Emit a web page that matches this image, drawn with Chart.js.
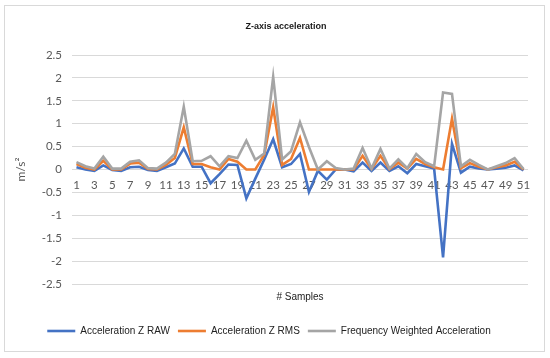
<!DOCTYPE html>
<html lang="en">
<head>
  <meta charset="UTF-8" />
  <title>Z-axis acceleration</title>
  <script src="https://cdn.jsdelivr.net/npm/chart.js"></script>
  <style>
    * { box-sizing: border-box; }
    html, body { margin: 0; padding: 0; background: #fff; }
    .frame {
      position: absolute;
      left: 4px; top: 5px;
      width: 541px; height: 347px;
      border: 1px solid #d9d9d9;
    }
    .wrap {
      position: absolute;
      left: 0; top: 0;
      width: 550px; height: 358px;
    }
  </style>
</head>
<body>
  <div class="frame"></div>
  <div class="wrap"><canvas id="zChart" width="550" height="358"></canvas></div>

  <script>
    const chartTitle = "Z-axis acceleration";
    const samples = [1, 2, 3, 4, 5, 6, 7, 8, 9, 10, 11, 12, 13, 14, 15, 16, 17, 18, 19, 20,
      21, 22, 23, 24, 25, 26, 27, 28, 29, 30, 31, 32, 33, 34, 35, 36, 37, 38, 39, 40,
      41, 42, 43, 44, 45, 46, 47, 48, 49, 50, 51];

    const rawZ = [0.05, 0.0, -0.03, 0.09, -0.01, -0.03, 0.05, 0.06, -0.01, -0.03,
      0.05, 0.13, 0.46, 0.06, 0.06, -0.3, -0.1, 0.11, 0.1, -0.63,
      -0.2, 0.22, 0.66, 0.05, 0.12, 0.34, -0.49, -0.03, -0.22, 0.0,
      0.0, -0.04, 0.15, -0.03, 0.15, -0.03, 0.07, -0.08, 0.12, 0.07,
      0.02, -1.92, 0.56, -0.07, 0.06, 0.02, 0.0, 0.02, 0.04, 0.09, -0.02];

    const rmsZ = [0.12, 0.04, 0.0, 0.19, 0.0, 0.0, 0.13, 0.15, 0.01, 0.0,
      0.1, 0.25, 0.92, 0.12, 0.12, 0.05, 0.0, 0.23, 0.17, 0.0,
      0.0, 0.32, 1.36, 0.1, 0.23, 0.69, 0.0, 0.0, 0.0, 0.0,
      0.0, 0.0, 0.3, 0.01, 0.3, 0.01, 0.15, 0.02, 0.23, 0.12,
      0.05, 0.0, 1.11, 0.03, 0.14, 0.06, 0.0, 0.05, 0.09, 0.17, 0.0];

    const weightedZ = [0.16, 0.07, 0.02, 0.28, 0.02, 0.02, 0.17, 0.2, 0.03, 0.02,
      0.15, 0.34, 1.37, 0.18, 0.19, 0.29, 0.07, 0.29, 0.25, 0.63,
      0.21, 0.35, 2.02, 0.22, 0.4, 1.03, 0.49, 0.0, 0.18, 0.03,
      0.0, 0.02, 0.47, 0.02, 0.45, 0.02, 0.22, 0.03, 0.34, 0.16,
      0.07, 1.68, 1.65, 0.07, 0.21, 0.1, 0.0, 0.07, 0.14, 0.25, 0.01];

    const seriesNames = ["Acceleration Z RAW", "Acceleration Z RMS", "Frequency Weighted Acceleration"];
    const seriesColors = ["#4472C4", "#ED7D31", "#A5A5A5"];

    const tickFont = { family: "Lato, 'Liberation Sans', sans-serif", size: 11.5 };
    const tickColor = "#595959";

    // title drawn by hand so it sits where the original has it (a bit right of centre)
    const titlePlugin = {
      id: "manualTitle",
      afterDraw(chart) {
        const ctx = chart.ctx;
        ctx.save();
        ctx.font = "bold 9px 'Liberation Sans', Arial, sans-serif";
        ctx.fillStyle = "#1a1a1a";
        ctx.textAlign = "center";
        ctx.textBaseline = "middle";
        ctx.fillText(chartTitle, 286, 27);
        ctx.restore();
      }
    };

    function makeDataset(i, values) {
      return {
        label: seriesNames[i],
        data: values,
        borderColor: seriesColors[i],
        backgroundColor: seriesColors[i],
        borderWidth: 2.6,
        pointRadius: 0,
        tension: 0,
        fill: false,
        order: 3 - i
      };
    }

    new Chart(document.getElementById("zChart"), {
      type: "line",
      data: {
        labels: samples,
        datasets: [makeDataset(0, rawZ), makeDataset(1, rmsZ), makeDataset(2, weightedZ)]
      },
      plugins: [titlePlugin],
      options: {
        responsive: false,
        animation: false,
        layout: { padding: { left: 10, right: 22, top: 55, bottom: 12 } },
        plugins: {
          title: { display: false },
          tooltip: { enabled: false },
          legend: {
            position: "bottom",
            labels: {
              usePointStyle: true,
              pointStyle: "line",
              pointStyleWidth: 28,
              padding: 8,
              color: "#222",
              font: { family: "'Liberation Sans', Arial, sans-serif", size: 10 },
              sort: (a, b) => a.datasetIndex - b.datasetIndex
            }
          }
        },
        scales: {
          x: {
            type: "category",
            position: { y: 0 },
            offset: true,
            grid: { display: false, drawTicks: false },
            border: { display: false },
            ticks: {
              color: tickColor,
              font: tickFont,
              padding: 9,
              autoSkip: false,
              maxRotation: 0,
              callback: (v, i) => (i % 2 === 0 ? samples[i] : "")
            }
          },
          x2: {
            type: "category",
            position: "bottom",
            labels: samples,
            offset: true,
            grid: { display: false, drawTicks: false },
            border: { display: false },
            ticks: { display: false },
            title: {
              display: true,
              text: "# Samples",
              color: "#222",
              font: { family: "'Liberation Sans', Arial, sans-serif", size: 10 },
              padding: { top: 7, bottom: 15 }
            }
          },
          y: {
            min: -2.5,
            max: 2.5,
            afterFit(scale) { scale.width = 62; },
            grid: { color: "#d9d9d9", lineWidth: 1, drawTicks: false },
            border: { display: false },
            ticks: {
              stepSize: 0.5,
              color: tickColor,
              font: tickFont,
              padding: 10,
              callback: v => String(Math.round(v * 10) / 10)
            },
            title: {
              display: true,
              text: "m/s²",
              color: tickColor,
              font: { family: "Lato, 'Liberation Sans', sans-serif", size: 12 },
              padding: { top: 4, bottom: 4 }
            }
          }
        }
      }
    });
  </script>
</body>
</html>
